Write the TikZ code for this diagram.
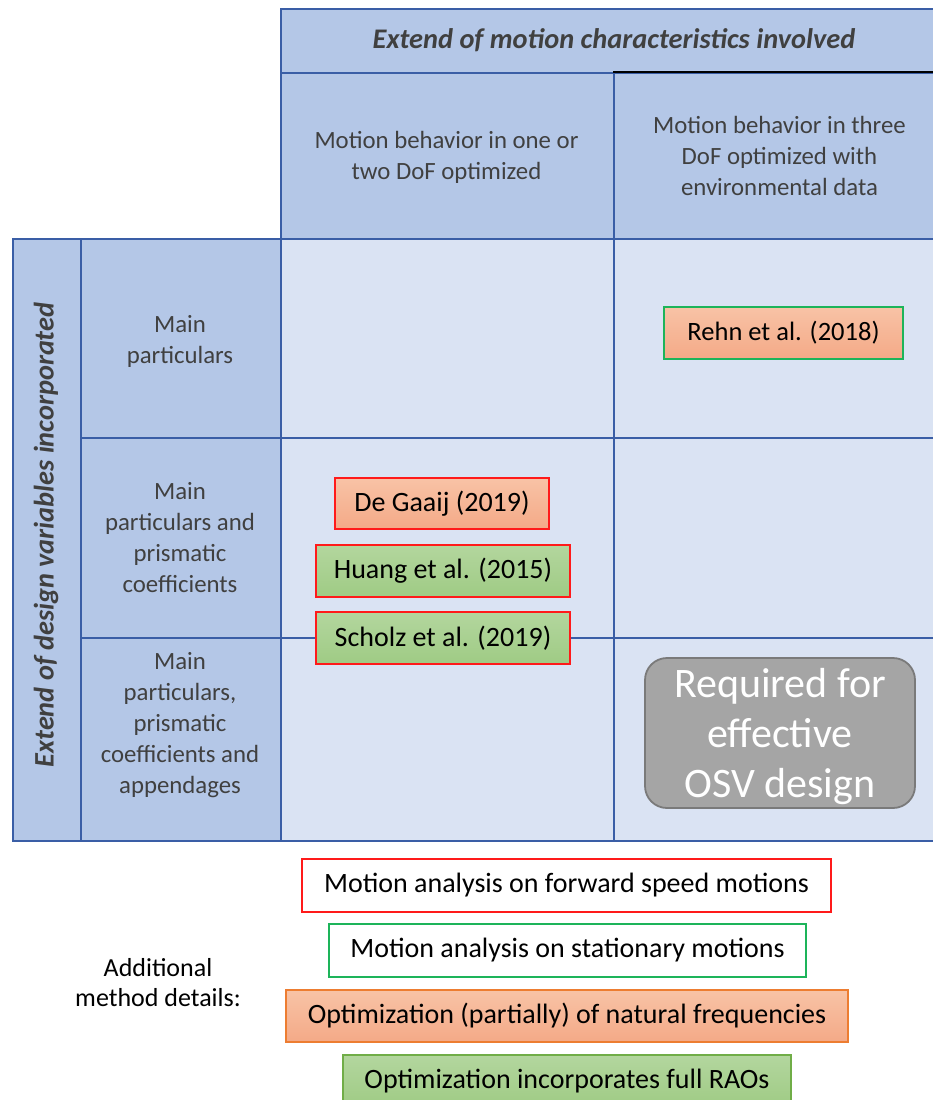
\documentclass[tikz,border=0pt]{standalone}
\usepackage{fontspec}
\setmainfont{Carlito}
\definecolor{gridline}{HTML}{3A5EA6}
\definecolor{headfill}{HTML}{B4C7E7}
\definecolor{bodyfill}{HTML}{DAE3F3}
\definecolor{labeltext}{HTML}{404040}
\definecolor{redline}{HTML}{FF1A1A}
\definecolor{greenline}{HTML}{1DB45A}
\definecolor{orangetop}{HTML}{F8C3A6}
\definecolor{orangebot}{HTML}{F4A987}
\definecolor{greentop}{HTML}{B3D69E}
\definecolor{greenbot}{HTML}{9FCB84}
\definecolor{orangeline}{HTML}{ED7D31}
\definecolor{legendgreen}{HTML}{70AD47}
\definecolor{reqfill}{HTML}{A5A5A5}
\definecolor{reqline}{HTML}{7A7A7A}
\begin{document}
\begin{tikzpicture}[x=1pt,y=-1pt,
  cell/.style={draw=gridline, line width=1.6pt, anchor=north west, inner sep=0pt},
  headcell/.style={cell, fill=headfill},
  bodycell/.style={cell, fill=bodyfill},
  headtext/.style={align=center, text=labeltext, inner sep=0pt,
    font=\fontsize{24.8}{31}\selectfont},
  ref/.style={draw=redline, line width=1.8pt, minimum height=50pt, inner sep=0pt,
    font=\fontsize{28}{30}\selectfont, text=black},
  orangefill/.style={top color=orangetop, bottom color=orangebot},
  greenfill/.style={top color=greentop, bottom color=greenbot},
  legend/.style={line width=1.8pt, minimum height=52pt, inner sep=0pt,
    font=\fontsize{28}{30}\selectfont, text=black}
]
\useasboundingbox (0,0) rectangle (933,1100);
\clip (0,0) rectangle (933,1100);

% column headings
\node[headcell, minimum width=660pt, minimum height=64pt] (title) at (280,8) {};
\node[headtext, font=\fontsize{28.4}{31}\bfseries\itshape\selectfont]
  (titletext) at (614,40) {Extend of motion characteristics involved};
\node[headcell, minimum width=333pt, minimum height=166pt] (colA) at (280,72) {};
\node[headtext] (colAtext) at (446.5,157.5) {Motion behavior in one or\\two DoF optimized};
\node[headcell, minimum width=327pt, minimum height=166pt] (colB) at (613,72) {};
\node[headtext] (colBtext) at (779.5,155.5)
  {Motion behavior in three\\DoF optimized with\\environmental data};
\draw[black, line width=1.6pt] (colB.north west) -- (colB.north east);

% row headings
\node[headcell, minimum width=68pt, minimum height=602pt] (side) at (12,238) {};
\node[rotate=90, font=\fontsize{28.3}{31}\bfseries\itshape\selectfont, text=labeltext]
  (sidelabel) at (46,535) {Extend of design variables incorporated};
\node[headcell, minimum width=200pt, minimum height=199pt] (rowA) at (80,238) {};
\node[headtext] (rowAtext) at (180,341) {Main\\particulars};
\node[headcell, minimum width=200pt, minimum height=200pt] (rowB) at (80,437) {};
\node[headtext] (rowBtext) at (180,538) {Main\\particulars and\\prismatic\\coefficients};
\node[headcell, minimum width=200pt, minimum height=203pt] (rowC) at (80,637) {};
\node[headtext] (rowCtext) at (180,725)
  {Main\\particulars,\\prismatic\\coefficients and\\appendages};

% body cells
\node[bodycell, minimum width=333pt, minimum height=199pt] (aa) at (280,238) {};
\node[bodycell, minimum width=327pt, minimum height=199pt] (ab) at (613,238) {};
\node[bodycell, minimum width=333pt, minimum height=200pt] (ba) at (280,437) {};
\node[bodycell, minimum width=327pt, minimum height=200pt] (bb) at (613,437) {};
\node[bodycell, minimum width=333pt, minimum height=203pt] (ca) at (280,637) {};
\node[bodycell, minimum width=327pt, minimum height=203pt] (cb) at (613,637) {};

% references
\node[ref, draw=greenline, orangefill, minimum width=239pt, minimum height=52pt,
  font=\fontsize{26.5}{30}\selectfont] (rehn) at (783.5,333) {Rehn et al. (2018)};
\node[ref, orangefill, minimum width=214pt, minimum height=51pt]
  (gaaij) at (442,503.5) {De Gaaij (2019)};
\node[ref, greenfill, minimum width=254pt, minimum height=52pt]
  (huang) at (443,571) {Huang et al. (2015)};
\node[ref, greenfill, minimum width=254pt, minimum height=52pt]
  (scholz) at (443,638) {Scholz et al. (2019)};

% target
\node[draw=reqline, line width=1.8pt, fill=reqfill, rounded corners=22pt,
  minimum width=270pt, minimum height=150pt, inner sep=0pt] (required) at (780,733) {};
\node[align=center, text=white, inner sep=0pt, font=\fontsize{42}{50}\selectfont]
  (requiredtext) at (780,737) {Required for\\effective\\OSV design};

% legend
\node[align=center, inner sep=0pt, font=\fontsize{26}{30}\selectfont, text=black]
  (legendtitle) at (158,983) {Additional\\method details:};
\node[legend, draw=redline, fill=white, minimum width=529pt, minimum height=53pt]
  (fwd) at (566.5,885.5) {Motion analysis on forward speed motions};
\node[legend, draw=greenline, fill=white, minimum width=477pt, minimum height=53pt]
  (stat) at (567.5,950.5) {Motion analysis on stationary motions};
\node[legend, draw=orangeline, orangefill, minimum width=562pt] (natfreq) at (567,1016)
  {Optimization (partially) of natural frequencies};
\node[legend, draw=legendgreen, greenfill, minimum width=448pt] (rao) at (567,1081)
  {Optimization incorporates full RAOs};
\end{tikzpicture}
\end{document}
